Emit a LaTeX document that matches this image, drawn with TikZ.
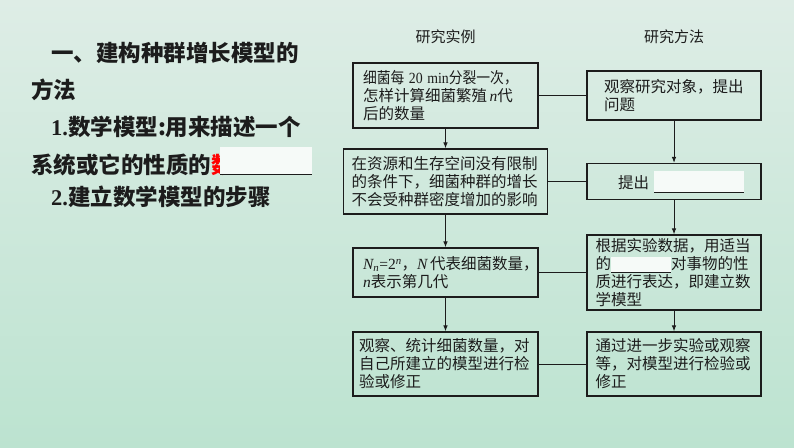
\documentclass[tikz,border=0pt]{standalone}
\usepackage{fontspec}
\usepackage{xcolor}
\usepackage{tikz}
\usetikzlibrary{arrows.meta}
\newfontfamily\cjk{Noto Sans CJK SC}
\newfontfamily\lat{Liberation Serif}
\definecolor{bgtop}{RGB}{222,237,230}
\definecolor{bgbot}{RGB}{188,227,208}
\definecolor{blankw}{RGB}{246,250,248}
\definecolor{ink}{RGB}{28,28,28}
% a fill-in blank: width, height, depth below baseline
\newcommand\blankfld[3]{{\color{blankw}\rule[-#3]{#1}{#2}}\llap{\rule[-#3]{#1}{0.7pt}}}
\newcommand\itl[1]{{\lat\itshape #1}}

\begin{document}
\begin{tikzpicture}[x=1pt, y=-1pt,
    box/.style={draw=ink, line width=1.1pt, inner xsep=0pt, inner ysep=2pt,
        align=left, text=ink, font=\cjk\fontsize{15.5}{18}\selectfont},
    arr/.style={-{Latex[length=6pt, width=4.5pt]}, line width=1pt, ink},
    lnk/.style={line width=1pt, ink},
    hdr/.style={font=\cjk\fontsize{15}{18}\selectfont, text=ink},
    note/.style={anchor=west, inner sep=0pt, text=ink,
        font=\cjk\bfseries\fontsize{22.5}{27}\selectfont},
]
\shade[top color=bgtop, bottom color=bgbot] (0,0) rectangle (794,447);
\useasboundingbox (0,0) rectangle (794,447);

% Left text
\node[note] (sec) at (51,53) {一、建构种群增长模型的};
\node[note] (sec2) at (31,90) {方法};
\node[note] (def1) at (51,127) {{\lat\bfseries 1.}数学模型:用来描述一个};
\node[note] (def2) at (31,161) {系统或它的性质的{\color{red}数}\kern-13.5pt\blankfld{92pt}{28pt}{1.5pt}};
\node[note] (steps) at (51,197) {{\lat\bfseries 2.}建立数学模型的步骤};

% column heads
\node[hdr] (hex) at (445.5,37) {研究实例};
\node[hdr] (hme) at (674,37) {研究方法};

% Research examples (left)
\node[box, minimum width=185, minimum height=65, text width=165] (ex1) at (445.5,95.5)
    {\scalebox{0.89}[1]{细菌每\ {\lat 20~min}分裂一次，}\\怎样计算细菌繁殖\,\itl{n}代\\后的数量};
\node[box, minimum width=204, minimum height=65, text width=188] (ex2) at (445.5,181.5)
    {在资源和生存空间没有限制\\的条件下，细菌种群的增长\\不会受种群密度增加的影响};
\node[box, minimum width=185, minimum height=49, text width=165] (ex3) at (445.5,272.5)
    {\itl{N\textsubscript{n}}{\lat =2\textsuperscript{\itshape n}}，\itl{N}\,代表细菌数量，\\\itl{n}表示第几代};
\node[box, minimum width=185, minimum height=64, text width=173] (ex4) at (445.5,364)
    {观察、统计细菌数量，对\\自己所建立的模型进行检\\验或修正};

% Research methods (right)
\node[box, minimum width=174, minimum height=49, text width=140] (me1) at (674,95.5)
    {观察研究对象，提出\\问题};
\node[box, minimum width=174, minimum height=36, text width=142] (me2) at (674,181.5)
    {\hspace*{15pt}提出\hspace{5pt}\blankfld{90pt}{22pt}{4pt}};
\node[box, minimum width=174, minimum height=75, text width=157] (me3) at (674,272.5)
    {根据实验数据，用适当\\的\blankfld{60pt}{16pt}{3.5pt}对事物的性\\质进行表达，即建立数\\学模型};
\node[box, minimum width=174, minimum height=64, text width=157] (me4) at (674,364)
    {通过进一步实验或观察\\等，对模型进行检验或\\修正};

\draw[arr] (ex1) -- (ex2);
\draw[arr] (ex2) -- (ex3);
\draw[arr] (ex3) -- (ex4);
\draw[arr] (me1) -- (me2);
\draw[arr] (me2) -- (me3);
\draw[arr] (me3) -- (me4);

\draw[lnk] (ex1) -- (me1);
\draw[lnk] (ex2) -- (me2);
\draw[lnk] (ex3) -- (me3);
\draw[lnk] (ex4) -- (me4);
\end{tikzpicture}
\end{document}
